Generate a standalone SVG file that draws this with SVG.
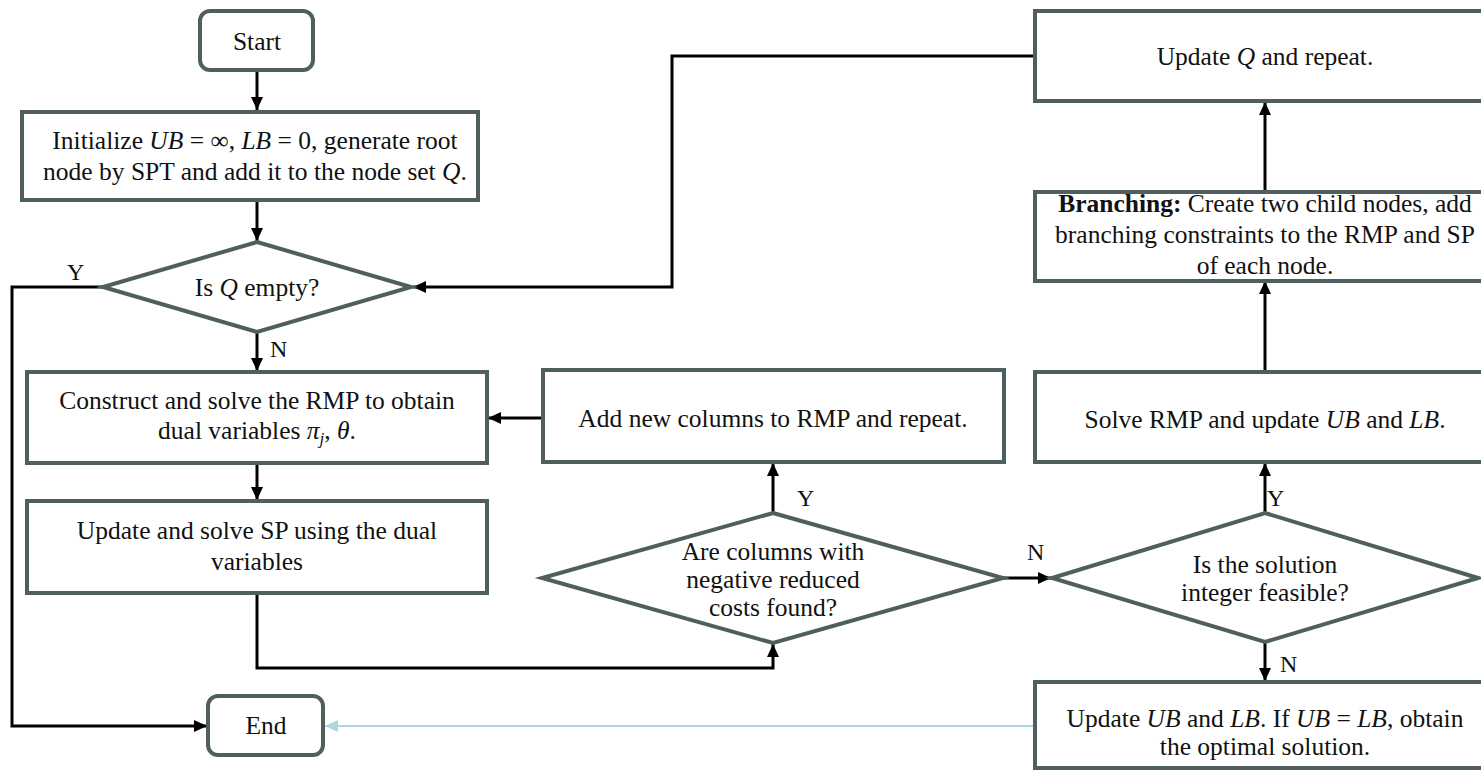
<svg xmlns="http://www.w3.org/2000/svg" width="1481" height="770" viewBox="0 0 1481 770">
  <style>
    .box { fill: #ffffff; stroke: #4f5e5e; stroke-width: 4; }
    .txt { font-family: "Liberation Serif", "Times New Roman", serif; font-size: 25.5px; fill: #111111; text-anchor: middle; }
    .lbl { font-family: "Liberation Serif", "Times New Roman", serif; font-size: 24px; fill: #111111; }
    .m { font-style: italic; }
    .b { font-weight: bold; }
    .edge { fill: none; stroke: #000000; stroke-width: 3; }
    .edge-soft { fill: none; stroke: #aad8dc; stroke-width: 2; }
  </style>
  <defs>
    <marker id="arrow" markerUnits="userSpaceOnUse" markerWidth="14" markerHeight="12" refX="13" refY="6" orient="auto">
      <path d="M0,0 L13,6 L0,12 z" fill="#000000"/>
    </marker>
    <marker id="arrow-soft" markerUnits="userSpaceOnUse" markerWidth="14" markerHeight="12" refX="13" refY="6" orient="auto">
      <path d="M0,0 L13,6 L0,12 z" fill="#aad8dc"/>
    </marker>
  </defs>

  <rect width="1481" height="770" fill="#ffffff"/>

  <!-- connectors -->
  <g id="connectors">
    <path class="edge" d="M257,70 V110" marker-end="url(#arrow)"/>
    <path class="edge" d="M257,200 V241" marker-end="url(#arrow)"/>
    <path class="edge" d="M103,287 H12 V726 H207" marker-end="url(#arrow)"/>
    <path class="edge" d="M257,332 V371" marker-end="url(#arrow)"/>
    <path class="edge" d="M257,463 V500" marker-end="url(#arrow)"/>
    <path class="edge" d="M257,593 V668 H773 V644" marker-end="url(#arrow)"/>
    <path class="edge" d="M773,513 V463" marker-end="url(#arrow)"/>
    <path class="edge" d="M543,418 H488" marker-end="url(#arrow)"/>
    <path class="edge" d="M1003,578 H1051" marker-end="url(#arrow)"/>
    <path class="edge" d="M1265,513 V463" marker-end="url(#arrow)"/>
    <path class="edge" d="M1265,372 V281" marker-end="url(#arrow)"/>
    <path class="edge" d="M1265,192 V102" marker-end="url(#arrow)"/>
    <path class="edge" d="M1034,56 H672 V287 H413" marker-end="url(#arrow)"/>
    <path class="edge" d="M1265,643 V681" marker-end="url(#arrow)"/>
    <path class="edge-soft" d="M1034,726 H325" marker-end="url(#arrow-soft)"/>

    <text class="lbl" x="67" y="280">Y</text>
    <text class="lbl" x="270" y="357">N</text>
    <text class="lbl" x="797" y="506">Y</text>
    <text class="lbl" x="1027" y="560">N</text>
    <text class="lbl" x="1267" y="506">Y</text>
    <text class="lbl" x="1280" y="672">N</text>
  </g>

  <!-- nodes -->
  <g id="start">
    <rect class="box" x="200" y="11" width="113" height="59" rx="10"/>
    <text class="txt" x="257" y="50">Start</text>
  </g>

  <g id="initialize">
    <rect class="box" x="22" y="112" width="456" height="88"/>
    <text class="txt" x="255" y="149">Initialize <tspan class="m">UB</tspan> = ∞, <tspan class="m">LB</tspan> = 0, generate root</text>
    <text class="txt" x="255" y="180">node by SPT and add it to the node set <tspan class="m">Q</tspan>.</text>
  </g>

  <g id="q-empty">
    <polygon class="box" points="257,242 411,287 257,332 103,287"/>
    <text class="txt" x="257" y="296">Is <tspan class="m">Q</tspan> empty?</text>
  </g>

  <g id="construct-rmp">
    <rect class="box" x="27" y="372" width="460" height="91"/>
    <text class="txt" x="257" y="409">Construct and solve the RMP to obtain</text>
    <text class="txt" x="257" y="439">dual variables <tspan class="m">π</tspan><tspan class="m" font-size="17" dy="5">j</tspan><tspan dy="-5">, </tspan><tspan class="m">θ</tspan>.</text>
  </g>

  <g id="solve-sp">
    <rect class="box" x="27" y="501" width="460" height="92"/>
    <text class="txt" x="257" y="539">Update and solve SP using the dual</text>
    <text class="txt" x="257" y="570">variables</text>
  </g>

  <g id="end">
    <rect class="box" x="208" y="696" width="115" height="59" rx="10"/>
    <text class="txt" x="266" y="734">End</text>
  </g>

  <g id="add-columns">
    <rect class="box" x="543" y="370" width="461" height="92"/>
    <text class="txt" x="773" y="427">Add new columns to RMP and repeat.</text>
  </g>

  <g id="negative-columns">
    <polygon class="box" points="773,513 1003,578 773,643 542,578"/>
    <text class="txt" x="773" y="560">Are columns with</text>
    <text class="txt" x="773" y="588">negative reduced</text>
    <text class="txt" x="773" y="616">costs found?</text>
  </g>

  <g id="integer-feasible">
    <polygon class="box" points="1265,513 1478,578 1265,642 1052,578"/>
    <text class="txt" x="1265" y="573">Is the solution</text>
    <text class="txt" x="1265" y="601">integer feasible?</text>
  </g>

  <g id="solve-rmp">
    <rect class="box" x="1035" y="372" width="460" height="90"/>
    <text class="txt" x="1265" y="428">Solve RMP and update <tspan class="m">UB</tspan> and <tspan class="m">LB</tspan>.</text>
  </g>

  <g id="branching">
    <rect class="box" x="1035" y="192" width="460" height="89"/>
    <text class="txt" x="1265" y="212"><tspan class="b">Branching:</tspan> Create two child nodes, add</text>
    <text class="txt" x="1265" y="243">branching constraints to the RMP and SP</text>
    <text class="txt" x="1265" y="274">of each node.</text>
  </g>

  <g id="update-q">
    <rect class="box" x="1035" y="11" width="460" height="90"/>
    <text class="txt" x="1265" y="65">Update <tspan class="m">Q</tspan> and repeat.</text>
  </g>

  <g id="update-bounds">
    <rect class="box" x="1035" y="682" width="460" height="86"/>
    <text class="txt" x="1265" y="727">Update <tspan class="m">UB</tspan> and <tspan class="m">LB</tspan>. If <tspan class="m">UB</tspan> = <tspan class="m">LB</tspan>, obtain</text>
    <text class="txt" x="1265" y="755">the optimal solution.</text>
  </g>
</svg>
